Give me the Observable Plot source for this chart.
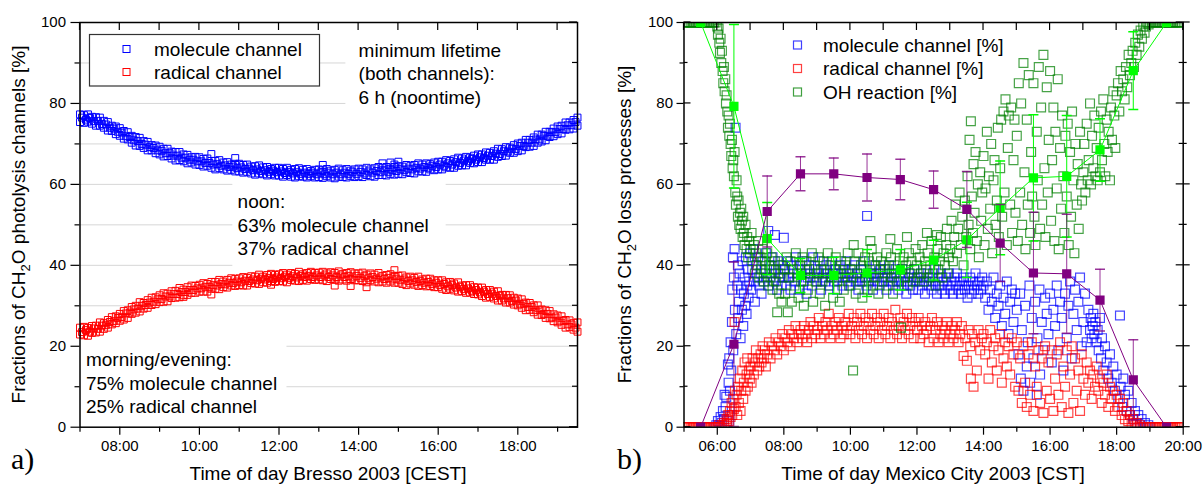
<!DOCTYPE html>
<html><head><meta charset="utf-8">
<script src="https://cdn.jsdelivr.net/npm/d3@7"></script>
<script src="https://cdn.jsdelivr.net/npm/@observablehq/plot@0.6"></script>
<style>
html,body{margin:0;padding:0;background:#fff;}
#wrap{display:flex;width:1203px;height:486px;overflow:hidden;}
#a{width:600px;height:486px;} #b{width:603px;height:486px;}
svg{display:block;}
</style></head><body><div id="wrap"><div id="a"></div><div id="b"></div></div>
<script>
// ---------------- Panel a) Bresso ----------------
const bressoHours = [7.0,7.1,7.2,7.3,7.4,7.5,7.6,7.7,7.8,7.9,8.0,8.1,8.2,8.3,8.4,8.5,8.6,8.7,8.8,8.9,9.0,9.1,9.2,9.3,9.4,9.5,9.6,9.7,9.8,9.9,10.0,10.1,10.2,10.3,10.4,10.5,10.6,10.7,10.8,10.9,11.0,11.1,11.2,11.3,11.4,11.5,11.6,11.7,11.8,11.9,12.0,12.1,12.2,12.3,12.4,12.5,12.6,12.7,12.8,12.9,13.0,13.1,13.2,13.3,13.4,13.5,13.6,13.7,13.8,13.9,14.0,14.1,14.2,14.3,14.4,14.5,14.6,14.7,14.8,14.9,15.0,15.1,15.2,15.3,15.4,15.5,15.6,15.7,15.8,15.9,16.0,16.1,16.2,16.3,16.4,16.5,16.6,16.7,16.8,16.9,17.0,17.1,17.2,17.3,17.4,17.5,17.6,17.7,17.8,17.9,18.0,18.1,18.2,18.3,18.4,18.5,18.6,18.7,18.8,18.9,19.0,19.1,19.2,19.3,19.4,19.5];
const moleculeHigh = [77.3,77.1,77.3,76.7,76.6,76.5,75.7,75.4,74.5,74.3, 73.9,73.2,72.9,72.0,71.7,71.5,70.7,70.5,69.7,69.6, 69.3,68.8,68.8,68.1,68.0,68.0,67.4,67.3,66.7,66.8, 66.7,66.3,66.4,65.8,65.8,66.0,65.4,65.5,64.9,65.1, 65.1,64.8,64.9,64.4,64.5,64.7,64.2,64.3,63.8,64.1, 64.1,63.8,64.1,63.6,63.8,64.0,63.6,63.8,63.3,63.6, 63.7,63.5,63.8,63.4,63.6,63.9,63.5,63.8,63.4,63.7, 63.9,63.7,64.1,63.7,64.0,64.3,64.0,64.3,63.9,64.3, 64.5,64.4,64.8,64.5,64.8,65.2,64.9,65.2,65.0,65.4, 65.6,65.6,66.0,65.8,66.2,66.6,66.4,66.8,66.6,67.1, 67.4,67.4,67.9,67.8,68.2,68.8,68.7,69.2,69.1,69.7, 70.1,70.3,71.0,71.0,71.6,72.3,72.3,73.0,73.0,73.8, 74.3,74.5,75.3,75.3,75.9,76.5];
const moleculeLow = [75.4,75.2,75.5,75.0,74.5,74.5,74.0,73.3,73.2,72.4, 72.0,71.3,71.1,70.3,69.6,69.5,69.0,68.4,68.4,67.7, 67.4,66.9,67.0,66.4,65.9,66.0,65.7,65.2,65.4,64.9, 64.8,64.4,64.6,64.1,63.7,64.0,63.7,63.4,63.6,63.2, 63.2,62.9,63.1,62.7,62.4,62.7,62.5,62.2,62.5,62.2, 62.2,61.9,62.3,61.9,61.7,62.0,61.9,61.7,62.0,61.7, 61.8,61.6,62.0,61.7,61.5,61.9,61.8,61.7,62.1,61.8, 62.0,61.8,62.3,62.0,61.9,62.3,62.3,62.2,62.6,62.4, 62.6,62.5,63.0,62.8,62.7,63.2,63.2,63.1,63.7,63.5, 63.7,63.7,64.2,64.1,64.1,64.6,64.7,64.7,65.3,65.2, 65.5,65.5,66.1,66.1,66.1,66.8,67.0,67.1,67.8,67.8, 68.2,68.4,69.2,69.3,69.5,70.3,70.6,70.9,71.7,71.9, 72.4,72.6,73.5,73.6,73.8,74.5];
const radicalHigh = [24.6,24.8,24.5,25.0,25.1,25.9,25.7,26.5,27.2,27.4, 28.0,28.7,28.9,29.7,30.0,30.9,30.7,31.4,32.0,32.1, 32.6,33.1,33.0,33.6,33.7,34.4,34.0,34.6,35.0,34.9, 35.2,35.6,35.4,35.9,35.9,36.4,36.0,36.4,36.8,36.6, 36.8,37.1,36.9,37.3,37.2,37.7,37.2,37.6,37.9,37.6, 37.8,38.1,37.7,38.1,37.9,38.4,37.8,38.1,38.4,38.1, 38.2,38.4,38.0,38.3,38.1,38.5,37.9,38.1,38.3,38.0, 38.0,38.2,37.7,38.0,37.7,38.1,37.4,37.6,37.8,37.4, 37.4,37.5,37.0,37.2,36.9,37.2,36.5,36.7,36.7,36.3, 36.3,36.3,35.8,35.9,35.5,35.8,35.0,35.1,35.1,34.6, 34.5,34.5,33.9,33.9,33.5,33.6,32.7,32.7,32.6,32.0, 31.8,31.6,30.8,30.7,30.1,30.1,29.1,28.9,28.7,27.9, 27.6,27.4,26.5,26.4,25.8,25.9];
const radicalLow = [22.9,22.7,22.6,23.3,23.4,23.6,24.3,24.6,25.4,25.7, 26.3,26.6,27.0,28.0,28.3,28.6,29.3,29.5,30.2,30.4, 30.9,31.0,31.1,31.9,32.0,32.1,32.6,32.7,33.2,33.2, 33.5,33.5,33.5,34.2,34.2,34.1,34.6,34.5,35.0,34.9, 35.1,35.0,35.0,35.6,35.5,35.4,35.8,35.7,36.1,35.9, 36.1,36.0,35.8,36.4,36.2,36.1,36.4,36.2,36.6,36.4, 36.5,36.3,36.1,36.6,36.4,36.2,36.5,36.2,36.5,36.3, 36.3,36.1,35.8,36.3,36.0,35.8,36.0,35.7,36.0,35.7, 35.7,35.4,35.1,35.5,35.2,34.9,35.1,34.8,34.9,34.6, 34.6,34.2,33.9,34.2,33.8,33.5,33.6,33.2,33.3,32.9, 32.8,32.4,32.0,32.2,31.8,31.3,31.3,30.8,30.8,30.3, 30.1,29.5,28.9,29.0,28.4,27.8,27.7,27.0,26.9,26.2, 25.9,25.3,24.6,24.7,24.1,23.6];
const bressoHalfHours = [7.05,7.15,7.25,7.35,7.45,7.55,7.65,7.75,7.85,7.95,8.05,8.15,8.25,8.35,8.45,8.55,8.65,8.75,8.85,8.95,9.05,9.15,9.25,9.35,9.45,9.55,9.65,9.75,9.85,9.95,10.05,10.15,10.25,10.35,10.45,10.55,10.65,10.75,10.85,10.95,11.05,11.15,11.25,11.35,11.45,11.55,11.65,11.75,11.85,11.95,12.05,12.15,12.25,12.35,12.45,12.55,12.65,12.75,12.85,12.95,13.05,13.15,13.25,13.35,13.45,13.55,13.65,13.75,13.85,13.95,14.05,14.15,14.25,14.35,14.45,14.55,14.65,14.75,14.85,14.95,15.05,15.15,15.25,15.35,15.45,15.55,15.65,15.75,15.85,15.95,16.05,16.15,16.25,16.35,16.45,16.55,16.65,16.75,16.85,16.95,17.05,17.15,17.25,17.35,17.45,17.55,17.65,17.75,17.85,17.95,18.05,18.15,18.25,18.35,18.45,18.55,18.65,18.75,18.85,18.95,19.05,19.15,19.25,19.35,19.45];
const moleculeMid = [76.5,76.0,76.4,75.6,75.7,74.9,74.8,74.0,73.8,73.0, 72.8,71.9,71.7,70.9,70.7,70.0,69.8,69.2,69.0,68.4, 68.3,67.7,67.7,67.1,67.1,66.6,66.6,66.1,66.1,65.7, 65.7,65.3,65.3,64.9,65.0,64.6,64.7,64.3,64.4,64.0, 64.2,63.8,63.9,63.5,63.7,63.3,63.5,63.1,63.4,63.0, 63.2,62.8,63.1,62.7,63.0,62.6,62.9,62.6,62.9,62.5, 62.9,62.5,62.9,62.5,62.9,62.5,62.9,62.6,63.0,62.6, 63.1,62.7,63.2,62.9,63.3,63.0,63.4,63.1,63.5,63.3, 63.7,63.5,63.9,63.7,64.1,63.9,64.3,64.1,64.6,64.3, 64.9,64.6,65.2,64.9,65.5,65.3,65.9,65.7,66.3,66.1, 66.7,66.5,67.1,67.0,67.6,67.5,68.2,68.1,68.8,68.7, 69.5,69.5,70.3,70.3,71.1,71.1,72.0,72.0,72.9,72.9, 73.7,73.7,74.6,74.6,75.4];
const radicalMid = [23.5,24.0,23.6,24.4,24.3,25.1,25.2,26.0,26.2,27.0, 27.2,28.1,28.3,29.1,29.3,30.0,30.2,30.8,31.0,31.6, 31.7,32.3,32.3,32.9,32.9,33.4,33.4,33.9,33.9,34.3, 34.3,34.7,34.7,35.1,35.0,35.4,35.3,35.7,35.6,36.0, 35.8,36.2,36.1,36.5,36.3,36.7,36.5,36.9,36.6,37.0, 36.8,37.2,36.9,37.3,37.0,37.4,37.1,37.4,37.1,37.5, 37.1,37.5,37.1,37.5,37.1,37.5,37.1,37.4,37.0,37.4, 36.9,37.3,36.8,37.1,36.7,37.0,36.6,36.9,36.5,36.7, 36.3,36.5,36.1,36.3,35.9,36.1,35.7,35.9,35.4,35.7, 35.1,35.4,34.8,35.1,34.5,34.7,34.1,34.3,33.7,33.9, 33.3,33.5,32.9,33.0,32.4,32.5,31.8,31.9,31.2,31.3, 30.5,30.5,29.7,29.7,28.9,28.9,28.0,28.0,27.1,27.1, 26.3,26.3,25.4,25.4,24.6];
const moleculeOutliers = [[10.3,67.5],[10.9,66.5],[13.1,64.8],[14.6,65.2],[14.8,65.4],[15.0,65.6],[14.9,64.9]];
const radicalOutliers = [[9.6,32.2],[10.3,32.8],[11.8,35.2],[13.4,35.0],[13.8,34.9],[14.2,34.6],[14.9,38.8]];
const bressoYTicks = [0,20,40,60,80,100];
const bressoYMinor = [10,30,50,70,90];
const bressoGrid = [10,20,30,40,50,60,70,80,90];
const bressoXTicks = [8,10,12,14,16,18];
const bressoXMinor = [7,9,11,13,15,17,19];

// ---------------- Panel b) Mexico City ----------------
const mexicoMolecule = [
[5.92,0],[5.97,0.5],[6.02,1.5],[6.07,0.5],[6.1,2.5],[6.13,1],[6.17,4],[6.2,2],
[6.22,8],[6.25,5],[6.27,7.5],[6.3,1.5],[6.32,15.5],[6.34,11],[6.36,17],[6.38,9],[6.4,21],[6.42,14],[6.44,26],[6.45,34],[6.47,42],[6.48,19],
[6.5,37],[6.52,44],[6.53,29],[6.55,74],[6.57,23],[6.6,35],[6.62,40],[6.63,27],[6.65,31],[6.67,38],[6.7,22],[6.72,34],[6.74,29],[6.76,41],[6.78,25],[6.8,33],[6.82,37],[6.84,30],[6.86,42],[6.88,28],[6.9,35],[6.92,39],[6.94,32],[6.96,36],[6.98,43],
[7.02,34],[7.05,39],[7.08,44],[7.1,36],[7.13,31],[7.16,40],[7.2,37],[7.23,42],[7.26,35],[7.3,38],[7.33,33],[7.36,41],[7.4,36],[7.43,39],[7.46,43],[7.5,37],[7.53,48.5],[7.56,35],[7.6,40],[7.63,38],[7.66,42],[7.7,36],[7.73,47.5],[7.76,39],[7.8,34],[7.83,41],[7.86,37],[7.9,38],[7.93,35],[7.96,40],[8.0,46.8],[8.0,37],
[8.04,39],[8.08,35],[8.12,41],[8.16,37],[8.2,34],[8.24,40],[8.28,38],[8.32,36],[8.36,42],[8.4,37],[8.44,39],[8.48,34],[8.52,38],[8.56,41],[8.6,36],[8.64,39],[8.68,33],[8.72,37],[8.76,40],[8.8,38],[8.84,35],[8.88,42],[8.92,37],[8.96,39],
[9.0,36],[9.04,38],[9.08,41],[9.12,34],[9.16,37],[9.2,39],[9.24,36],[9.28,40],[9.32,38],[9.36,35],[9.4,37],[9.44,41],[9.48,38],[9.52,36],[9.56,39],[9.6,34],[9.64,37],[9.68,40],[9.72,38],[9.76,35],[9.8,39],[9.84,37],[9.88,41],[9.92,36],[9.96,38],
[10.0,35],[10.04,39],[10.08,37],[10.12,40],[10.16,36],[10.2,38],[10.24,34],[10.28,37],[10.32,39],[10.36,36],[10.4,41],[10.44,37],[10.48,35],[10.5,52.2],[10.52,38],[10.56,36],[10.6,39],[10.64,37],[10.68,34],[10.72,38],[10.76,40],[10.8,36],[10.84,38],[10.88,35],[10.92,39],[10.96,37],
[11.0,36],[11.04,39],[11.08,34],[11.12,37],[11.16,40],[11.2,36],[11.24,38],[11.28,35],[11.32,37],[11.36,39],[11.4,36],[11.44,34],[11.48,38],[11.52,36],[11.56,39],[11.6,35],[11.64,37],[11.68,33],[11.72,36],[11.76,38],[11.8,35],[11.84,37],[11.88,34],[11.92,39],[11.96,36],
[12.0,37],[12.04,34],[12.08,36],[12.12,38],[12.16,35],[12.2,37],[12.24,33],[12.28,36],[12.32,38],[12.36,35],[12.4,37],[12.44,34],[12.48,36],[12.52,39],[12.56,35],[12.6,33],[12.64,37],[12.68,35],[12.72,38],[12.76,34],[12.8,36],[12.84,33],[12.88,37],[12.92,35],[12.96,38],
[13.0,34],[13.04,36],[13.08,33],[13.12,37],[13.16,35],[13.2,38],[13.24,34],[13.28,36],[13.32,33],[13.36,35],[13.4,37],[13.44,34],[13.48,36],[13.52,32],[13.56,35],[13.6,37],[13.64,33],[13.68,36],[13.72,34],[13.76,38],[13.8,35],[13.84,33],[13.88,36],[13.92,34],[13.96,37],
[14.0,35],[14.05,32],[14.1,36],[14.15,29],[14.2,34],[14.25,31],[14.3,37],[14.35,27],[14.4,33],[14.45,30],[14.5,35],[14.55,25],[14.6,32],[14.65,28],[14.7,36],[14.75,23],[14.8,31],[14.85,34],[14.9,26],[14.95,33],
[15.0,29],[15.05,18],[15.1,33],[15.12,12],[15.15,24],[15.2,9],[15.25,30],[15.3,15],[15.33,21],[15.38,35],[15.4,11],[15.45,27],[15.5,17],[15.55,31],[15.6,8],[15.62,22],[15.68,34],[15.7,13],[15.75,26],[15.8,19],[15.85,32],[15.9,28],[15.95,23],
[16.0,33],[16.05,16],[16.1,29],[16.15,25],[16.2,35],[16.25,19],[16.3,31],[16.35,27],[16.4,14],[16.45,33],[16.5,22],[16.55,30],[16.6,36],[16.65,17],[16.7,28],[16.75,34],[16.8,24],[16.85,31],[16.9,37],[16.95,20],
[17.0,26],[17.05,33],[17.1,21],[17.15,29],[17.2,24],[17.22,27],[17.25,22],[17.28,25],[17.3,28],[17.33,23],[17.36,26],[17.4,21],[17.43,24],[17.46,19],[17.5,27],[17.53,17],[17.56,22],[17.6,14],[17.65,20],[17.7,16],[17.75,12],[17.8,18],[17.85,11],[17.9,15],[17.95,9],
[18.0,13],[18.05,7],[18.1,27.6],[18.12,10],[18.17,5],[18.2,12],[18.25,8],[18.3,4],[18.35,9],[18.4,3],[18.45,6],[18.5,2],[18.55,4],[18.6,1],[18.65,3],[18.7,0.5],[18.75,2],[18.8,0],[18.85,1],[18.9,0],[18.95,0.5],[19.0,0]];
const mexicoRadical = [
[5.0,0],[5.05,0],[5.1,0],[5.15,0],[5.2,0],[5.25,0],[5.3,0],[5.35,0],[5.4,0],[5.45,0],[5.5,0],[5.55,0],[5.6,0],[5.65,0],[5.7,0],[5.75,0],[5.8,0],[5.85,0],[5.9,0],[5.95,0],[6.0,0],[6.05,0.5],[6.1,0],[6.15,0.5],[6.2,1],
[6.25,0.5],[6.28,2],[6.3,1],[6.33,3],[6.35,1.5],[6.38,4],[6.4,2.5],[6.43,6],[6.45,3],[6.48,7],[6.5,4.5],[6.52,26],[6.53,9],[6.55,5],[6.58,8],[6.6,3],[6.62,10],[6.65,6],[6.68,12],[6.7,4],
[6.72,9],[6.75,14],[6.78,7],[6.8,11],[6.82,16],[6.85,9],[6.88,13],[6.9,17],[6.92,10],[6.95,14],[6.98,12],[7.0,15],[7.03,11],[7.06,17],[7.1,13],[7.13,16],[7.16,19],[7.2,14],[7.23,17],[7.26,15],[7.3,18],[7.33,16],[7.36,20],[7.4,17],[7.43,19],[7.46,15],
[7.5,18],[7.55,21],[7.6,17],[7.65,20],[7.7,19],[7.75,22],[7.8,18],[7.85,21],[7.9,20],[7.95,23],[8.0,19],[8.05,22],[8.1,21],[8.15,24],[8.2,20],[8.25,23],[8.3,22],[8.35,25],[8.4,21],[8.45,23],[8.5,24],[8.55,22],[8.6,25],[8.65,23],[8.7,21],[8.75,24],[8.8,26],[8.85,22],[8.9,25],[8.95,23],
[9.0,24],[9.05,27],[9.1,22],[9.15,25],[9.2,23],[9.25,26],[9.3,24],[9.35,28],[9.4,22],[9.45,25],[9.5,23],[9.55,26],[9.6,24],[9.65,27],[9.7,22],[9.75,25],[9.8,23],[9.85,26],[9.9,24],[9.95,28],
[10.0,23],[10.05,25],[10.1,27],[10.15,22],[10.2,26],[10.25,24],[10.3,28],[10.35,23],[10.4,25],[10.45,27],[10.5,22],[10.55,26],[10.6,24],[10.65,28],[10.7,23],[10.75,25],[10.8,27],[10.85,22],[10.9,26],[10.95,24],
[11.0,28],[11.05,23],[11.1,25],[11.15,27],[11.2,22],[11.25,26],[11.3,24],[11.35,29],[11.4,23],[11.45,25],[11.5,27],[11.55,22],[11.6,26],[11.65,24],[11.7,28],[11.75,23],[11.8,25],[11.85,27],[11.9,22],[11.95,26],
[12.0,24],[12.05,27],[12.1,22],[12.15,25],[12.2,23],[12.25,26],[12.3,24],[12.35,21],[12.4,25],[12.45,27],[12.5,22],[12.55,24],[12.6,26],[12.65,21],[12.7,23],[12.75,25],[12.8,22],[12.85,24],[12.9,26],[12.95,21],
[13.0,23],[13.05,25],[13.1,22],[13.15,24],[13.2,26],[13.25,21],[13.3,23],[13.35,25],[13.4,17.6],[13.45,22],[13.5,16.4],[13.55,24],[13.6,20],[13.62,12],[13.65,23],[13.7,10],[13.75,21],[13.8,14],[13.85,24],[13.9,19],[13.95,22],
[14.0,23],[14.05,18],[14.1,21],[14.15,12],[14.2,24],[14.25,16],[14.3,20],[14.35,22],[14.4,14],[14.45,19],[14.5,23],[14.55,11],[14.6,17],[14.65,21],[14.7,15],[14.75,20],[14.8,13],[14.85,22],[14.9,18],[14.95,10],
[15.0,21],[15.05,9],[15.1,17],[15.15,6],[15.2,20],[15.25,11],[15.3,5],[15.35,18],[15.4,8],[15.45,21],[15.5,4],[15.55,15],[15.6,10],[15.65,19],[15.7,6],[15.75,17],[15.8,3.5],[15.85,20],[15.9,9],[15.95,16],
[16.0,7],[16.05,19],[16.1,4],[16.15,12],[16.2,18],[16.25,8],[16.3,21],[16.35,5],[16.4,15],[16.45,10],[16.5,19],[16.55,3.5],[16.6,13],[16.65,20],[16.7,6],[16.75,17],[16.8,9],[16.85,14],[16.9,4],[16.95,18],
[17.0,12],[17.05,8],[17.1,16],[17.15,11],[17.2,14],[17.25,7],[17.3,13],[17.35,10],[17.4,15],[17.45,9],[17.5,12],[17.55,6],[17.6,11],[17.65,8],[17.7,13],[17.75,5],[17.8,10],[17.85,7],[17.9,9],[17.95,4],
[18.0,8],[18.05,5],[18.1,7],[18.15,3],[18.2,6],[18.25,2],[18.3,4],[18.35,1.5],[18.4,3],[18.45,1],[18.5,2],[18.55,0.5],[18.6,1],[18.65,0],[18.7,0.5],[18.75,0],[18.8,0],
[18.9,0],[19.0,0],[19.05,0],[19.1,0],[19.15,0],[19.2,0],[19.25,0],[19.3,0],[19.35,0],[19.4,0],[19.45,0],[19.5,0],[19.55,0],[19.6,0],[19.65,0],[19.7,0],[19.75,0],[19.8,0],[19.85,0],[19.9,0],[19.95,0]];
const mexicoOH = [
[5.0,100],[5.05,100],[5.1,100],[5.15,100],[5.2,100],[5.25,100],[5.3,100],[5.35,100],[5.4,100],[5.45,100],[5.5,100],[5.55,100],[5.6,100],[5.65,100],[5.7,100],[5.75,100],[5.8,100],[5.85,100],[5.9,100],[5.95,100],
[6.0,99],[6.02,97],[6.04,98.5],[6.06,95],[6.08,92.5],[6.1,96],[6.12,90],[6.14,93],[6.16,88],[6.18,85],[6.2,89],[6.22,83],[6.24,86],[6.26,80],[6.28,82],[6.3,78],[6.32,74],[6.34,77],[6.36,72],[6.38,75],[6.4,70],[6.42,67],[6.44,71],[6.46,64],[6.48,66],
[6.5,62],[6.52,68],[6.54,58],[6.56,55],[6.58,61],[6.6,57],[6.62,52],[6.64,56],[6.66,50],[6.68,53],[6.7,49],[6.72,54],[6.74,51],[6.76,47],[6.78,52],[6.8,48],[6.82,45],[6.85,50],[6.88,44],[6.9,47],[6.93,42],[6.96,46],
[7.0,44],[7.03,48],[7.06,41],[7.1,45],[7.13,38],[7.16,43],[7.2,40],[7.23,46],[7.26,37],[7.3,42],[7.33,39],[7.36,44],[7.4,36],[7.43,41],[7.46,38],[7.5,43],[7.53,35],[7.56,40],[7.6,37],[7.63,42],[7.66,34],[7.7,39],[7.73,41],[7.76,36],[7.8,28.4],[7.83,38],[7.86,33],[7.9,40],[7.93,31],[7.96,37],
[8.0,39],[8.04,33],[8.08,42],[8.12,28.4],[8.16,37],[8.2,41],[8.24,31],[8.28,39],[8.32,35],[8.36,43],[8.4,38],[8.44,32],[8.48,40],[8.52,36],[8.56,42],[8.6,30],[8.64,38],[8.68,41],[8.72,34],[8.76,39],[8.8,37],[8.84,43],[8.88,31],[8.92,40],[8.96,36],
[9.0,38],[9.04,42],[9.08,33],[9.12,39],[9.16,36],[9.2,41],[9.24,30],[9.28,38],[9.32,43],[9.36,35],[9.4,40],[9.44,37],[9.48,32],[9.52,39],[9.56,42],[9.6,36],[9.64,38],[9.68,31],[9.72,41],[9.76,37],[9.8,34],[9.84,40],[9.88,38],[9.92,43],[9.96,35],
[10.0,39],[10.04,37],[10.08,14],[10.1,45],[10.12,41],[10.16,33],[10.2,38],[10.24,43],[10.28,36],[10.32,40],[10.36,32],[10.4,39],[10.44,42],[10.48,37],[10.52,34],[10.56,41],[10.6,46],[10.62,38],[10.64,44],[10.68,35],[10.72,40],[10.76,37],[10.8,42],[10.84,33],[10.88,39],[10.92,41],[10.96,36],
[11.0,40],[11.04,38],[11.08,43],[11.12,35],[11.16,39],[11.2,46.5],[11.22,42],[11.24,37],[11.28,33],[11.32,40],[11.36,38],[11.4,44],[11.44,36],[11.48,41],[11.52,24.6],[11.56,39],[11.6,42],[11.64,37],[11.68,40],[11.7,47],[11.72,35],[11.76,43],[11.8,38],[11.84,41],[11.88,36],[11.92,39],[11.96,44],
[12.0,40],[12.04,37],[12.08,42],[12.12,38],[12.16,45],[12.2,36],[12.24,41],[12.28,39],[12.3,48],[12.32,43],[12.36,37],[12.4,40],[12.44,46],[12.48,38],[12.52,42],[12.56,35],[12.6,47.5],[12.62,44],[12.64,39],[12.68,41],[12.72,47],[12.76,37],[12.8,43],[12.84,40],[12.88,45],[12.9,49],[12.92,38],[12.96,42],
[13.0,44],[13.04,51],[13.08,41],[13.12,47],[13.16,55],[13.2,43],[13.24,49],[13.28,58],[13.32,45],[13.36,52],[13.4,40],[13.44,56],[13.48,47],
[13.52,62],[13.55,50],[13.58,71],[13.6,44],[13.62,75.6],[13.65,57],[13.68,48],[13.7,65],[13.73,53],[13.76,68],[13.8,46],[13.83,60],[13.86,42],[13.9,63],[13.93,51],[13.96,58],
[14.0,67],[14.03,45],[14.06,59],[14.1,73],[14.13,49],[14.16,62],[14.2,54],[14.23,70],[14.26,43],[14.3,61],[14.33,66],[14.36,50],[14.4,56],[14.43,74],[14.46,47],
[14.5,64],[14.53,76],[14.56,52],[14.6,78],[14.63,58],[14.66,81],[14.7,45],[14.73,69],[14.76,77],[14.8,55],[14.83,79],[14.86,48],[14.9,66],[14.93,76],[14.96,53],
[15.0,72],[15.03,46],[15.06,85],[15.1,58],[15.13,80],[15.16,50],[15.2,90],[15.23,63],[15.26,44],[15.3,76],[15.33,55],[15.36,87],[15.4,48],[15.43,68],[15.46,57],
[15.5,85],[15.53,52],[15.56,45],[15.6,73],[15.63,61],[15.66,89],[15.7,49],[15.73,79],[15.76,55],[15.8,92],[15.83,64],[15.86,47],[15.9,84],[15.93,58],[15.96,71],
[16.0,88],[16.03,51],[16.06,66],[16.1,79],[16.13,46],[16.16,73],[16.2,59],[16.23,86],[16.26,44],[16.3,69],[16.33,54],[16.36,77],[16.4,62],[16.43,48],[16.46,72],
[16.5,57],[16.53,75],[16.56,45],[16.6,68],[16.63,52],[16.66,78],[16.7,61],[16.73,43],[16.76,70],[16.8,55],[16.83,65],[16.86,49],[16.9,73],[16.93,60],[16.96,56],
[17.0,63],[17.03,70],[17.06,58],[17.1,75],[17.13,61],[17.16,66],[17.2,80],[17.23,60],[17.26,72],[17.3,64],[17.33,77],[17.36,62],[17.4,69],[17.43,61],[17.46,74],
[17.5,63],[17.53,78],[17.56,66],[17.6,81],[17.63,70],[17.66,62],[17.7,76],[17.73,68],[17.76,73],[17.8,61],[17.83,79],[17.86,71],[17.9,83],[17.93,77],[17.96,69],
[18.0,82],[18.04,85],[18.08,78],[18.12,88],[18.16,83],[18.2,86],[18.24,81],[18.28,89],[18.32,84],[18.36,92],[18.4,87],[18.44,90],[18.48,93],
[18.52,89],[18.56,95],[18.6,92],[18.64,97],[18.68,94],[18.72,98],[18.76,96],[18.8,99],[18.84,97.5],[18.88,99],[18.92,100],[18.96,99.5],
[19.0,100],[19.05,100],[19.1,100],[19.15,100],[19.2,100],[19.25,100],[19.3,100],[19.35,100],[19.4,100],[19.45,100],[19.5,100],[19.55,100],[19.6,100],[19.65,100],[19.7,100],[19.75,100],[19.8,100],[19.85,100],[19.9,100],[19.95,100]];
const hourlyHours = [5.5,6.5,7.5,8.5,9.5,10.5,11.5,12.5,13.5,14.5,15.5,16.5,17.5,18.5,19.5];
const photolysisMean = [0,20.5,53.3,62.6,62.6,61.7,61.2,58.7,53.8,45.5,38.1,37.9,31.4,11.7,0];
const photolysisErr = [0,20.3,8.8,4.2,3.9,5.8,5.0,4.6,9.4,9.5,15.0,14.7,7.6,9.9,0];
const ohMean = [100,79.3,46.6,37.5,37.5,38.1,38.9,41.3,46.3,54.2,61.6,62.0,68.5,88.1,100];
const ohErr = [0,20.2,8.9,4.2,4.5,5.8,5.0,4.9,9.3,11.6,15.6,15.0,7.7,9.6,0];
const mexicoXTicks = [6,8,10,12,14,16,18,20];
const mexicoXMinor = [5,7,9,11,13,15,17,19];

// ---------------- helpers ----------------
const FONT = "'Liberation Sans', Arial, Helvetica, sans-serif";
const hhmm = h => String(h).padStart(2, "0") + ":00";
const BLUE = "#0000ff", RED = "#ff0000", DKGREEN = "#008000", PURPLE = "#800080", LIME = "#00ff00";
const cap = {draw(ctx) { ctx.moveTo(-5, 0); ctx.lineTo(5, 0); }};

const bressoMolecule = bressoHours.flatMap((t, i) => [{t, v: moleculeHigh[i]}, {t, v: moleculeLow[i]}])
  .concat(bressoHalfHours.map((t, i) => ({t, v: moleculeMid[i]})))
  .concat(moleculeOutliers.map(([t, v]) => ({t, v})));
const bressoRadical = bressoHours.flatMap((t, i) => [{t, v: radicalHigh[i]}, {t, v: radicalLow[i]}])
  .concat(bressoHalfHours.map((t, i) => ({t, v: radicalMid[i]})))
  .concat(radicalOutliers.map(([t, v]) => ({t, v})));
const photolysis = hourlyHours.map((t, i) => ({t, v: photolysisMean[i], e: photolysisErr[i]}));
const ohReaction = hourlyHours.map((t, i) => ({t, v: ohMean[i], e: ohErr[i]}));

function txt(svg, x, y, str, opts = {}) {
  const t = d3.select(svg).append("text").attr("x", x).attr("y", y)
    .attr("font-family", opts.family || FONT).attr("font-size", opts.size || 19)
    .attr("text-anchor", opts.anchor || "start").attr("fill", "#000");
  t.text(str);
  return t;
}
function ytitle(svg, x, y, before, after) {
  const t = d3.select(svg).append("text").attr("transform", `translate(${x},${y}) rotate(-90)`)
    .attr("font-family", FONT).attr("font-size", 19).attr("text-anchor", "middle").attr("fill", "#000");
  t.append("tspan").text(before);
  t.append("tspan").attr("font-size", 13).attr("dy", 5).text("2");
  t.append("tspan").attr("dy", -5).text(after);
}
function ticks(svg, spec) {
  const sx = svg.scale("x"), sy = svg.scale("y");
  const [L, R] = sx.range, [B, T] = sy.range;
  const g = d3.select(svg).append("g").attr("stroke", "#000").attr("stroke-width", 1.2);
  for (const [v, len] of spec.top || []) { const x = sx.apply(v); g.append("line").attr("x1", x).attr("x2", x).attr("y1", T).attr("y2", T + len); }
  for (const [v, inn, out] of spec.right || []) { const y = sy.apply(v); g.append("line").attr("x1", R - inn).attr("x2", R + out).attr("y1", y).attr("y2", y); }
  for (const [v, inn] of spec.left || []) { const y = sy.apply(v); g.append("line").attr("x1", L).attr("x2", L + inn).attr("y1", y).attr("y2", y); }
}

// ---------------- Panel a ----------------
const boxesA = [{x1: 13.68, x2: 19.5, y1: 76, y2: 100}, {x1: 10.84, x2: 16.2, y1: 38.8, y2: 61.5}, {x1: 7, x2: 12.2, y1: 0, y2: 21.5}];
const notesA = [
  {x: 14.0, y: 87.6, text: "minimum lifetime\n(both channels):\n6 h (noontime)"},
  {x: 10.96, y: 50.2, text: "noon:\n63% molecule channel\n37% radical channel"},
  {x: 7.15, y: 11.1, text: "morning/evening:\n75% molecule channel\n25% radical channel"}
];
const svgA = Plot.plot({
  width: 600, height: 486, marginLeft: 79.5, marginRight: 23, marginTop: 22, marginBottom: 59.3,
  style: {fontFamily: FONT, color: "#000", background: "#fff", overflow: "visible"},
  x: {domain: [7, 19.5], axis: null},
  y: {domain: [0, 100], axis: null},
  marks: [
    Plot.ruleY(bressoGrid, {stroke: "#d6d6d6", strokeWidth: 1}),
    Plot.rect(boxesA, {x1: "x1", x2: "x2", y1: "y1", y2: "y2", fill: "#fff"}),
    Plot.dot(bressoMolecule, {x: "t", y: "v", symbol: "square", r: 3.9, stroke: BLUE, fill: "none", strokeWidth: 1}),
    Plot.dot(bressoRadical, {x: "t", y: "v", symbol: "square", r: 3.9, stroke: RED, fill: "none", strokeWidth: 1}),
    Plot.text(notesA, {x: "x", y: "y", text: "text", textAnchor: "start", lineAnchor: "middle", lineHeight: 1.23, fontSize: 19, fill: "#000"}),
    Plot.axisX({ticks: bressoXTicks, tickFormat: hhmm, tickSize: 8, tickPadding: 5, fontSize: 15, strokeWidth: 1.2, label: null}),
    Plot.axisX({ticks: bressoXMinor, tickSize: 5, tickFormat: () => "", strokeWidth: 1.2, label: null}),
    Plot.axisY({ticks: bressoYTicks, tickSize: 9, tickPadding: 5, fontSize: 15, strokeWidth: 1.2, label: null}),
    Plot.axisY({ticks: bressoYMinor, tickSize: 5, tickFormat: () => "", strokeWidth: 1.2, label: null}),
    Plot.frame({stroke: "#000", strokeWidth: 1.5})
  ]
});
ticks(svgA, {
  top: bressoXTicks.concat(bressoXMinor).map(v => [v, 8]),
  right: bressoYTicks.map(v => [v, 8, 0]).concat(bressoYMinor.map(v => [v, 5, 0]))
});
{
  const g = d3.select(svgA).append("g");
  g.append("rect").attr("x", 89.5).attr("y", 34.5).attr("width", 230).attr("height", 51.5)
    .attr("fill", "#fff").attr("stroke", "#333").attr("stroke-width", 1.2);
  [[BLUE, 49, "molecule channel"], [RED, 72, "radical channel"]].forEach(([c, y, s]) => {
    g.append("rect").attr("x", 123).attr("y", y - 3.5).attr("width", 7).attr("height", 7).attr("fill", "none").attr("stroke", c);
    txt(svgA, 154, y + 6.8, s);
  });
}
ytitle(svgA, 25, 224.5, "Fractions of CH", "O photolysis channels [%]");
txt(svgA, 328, 480, "Time of day Bresso 2003 [CEST]", {anchor: "middle"});
txt(svgA, 11, 469, "a)", {family: "'Liberation Serif', 'Times New Roman', serif", size: 30});
document.getElementById("a").append(svgA);

// ---------------- Panel b ----------------
const errP = photolysis.filter(d => d.e > 0), errO = ohReaction.filter(d => d.e > 0);
const svgB = Plot.plot({
  width: 603, height: 486, marginLeft: 83.5, marginRight: 20.3, marginTop: 22, marginBottom: 59.3,
  style: {fontFamily: FONT, color: "#000", background: "#fff", overflow: "visible"},
  x: {domain: [5, 20], axis: null},
  y: {domain: [0, 100], axis: null},
  marks: [
    Plot.dot(mexicoMolecule, {x: d => d[0], y: d => d[1], symbol: "square", r: 5, stroke: BLUE, strokeOpacity: 0.72, fill: "none", strokeWidth: 1.2, clip: true}),
    Plot.dot(mexicoRadical, {x: d => d[0], y: d => d[1], symbol: "square", r: 5, stroke: RED, strokeOpacity: 0.72, fill: "none", strokeWidth: 1.2, clip: true}),
    Plot.dot(mexicoOH, {x: d => d[0], y: d => d[1], symbol: "square", r: 5, stroke: DKGREEN, strokeOpacity: 0.72, fill: "none", strokeWidth: 1.2, clip: true}),
    Plot.line(ohReaction, {x: "t", y: "v", stroke: LIME, strokeWidth: 1, clip: true}),
    Plot.ruleX(errO, {x: "t", y1: d => d.v - d.e, y2: d => d.v + d.e, stroke: LIME, strokeWidth: 1, clip: true}),
    Plot.dot(errO, {x: "t", y: d => d.v + d.e, symbol: cap, stroke: LIME, fill: "none", clip: true}),
    Plot.dot(errO, {x: "t", y: d => d.v - d.e, symbol: cap, stroke: LIME, fill: "none", clip: true}),
    Plot.dot(ohReaction, {x: "t", y: "v", symbol: "square", r: 5.2, fill: LIME, stroke: "none", clip: true}),
    Plot.line(photolysis, {x: "t", y: "v", stroke: PURPLE, strokeWidth: 1, clip: true}),
    Plot.ruleX(errP, {x: "t", y1: d => d.v - d.e, y2: d => d.v + d.e, stroke: PURPLE, strokeOpacity: 0.8, strokeWidth: 1, clip: true}),
    Plot.dot(errP, {x: "t", y: d => d.v + d.e, symbol: cap, stroke: PURPLE, strokeOpacity: 0.8, fill: "none", clip: true}),
    Plot.dot(errP, {x: "t", y: d => d.v - d.e, symbol: cap, stroke: PURPLE, strokeOpacity: 0.8, fill: "none", clip: true}),
    Plot.dot(photolysis, {x: "t", y: "v", symbol: "square", r: 5.2, fill: PURPLE, stroke: "none", clip: true}),
    Plot.axisX({ticks: mexicoXTicks, tickFormat: hhmm, tickSize: 8, tickPadding: 5, fontSize: 15, strokeWidth: 1.2, label: null}),
    Plot.axisX({ticks: mexicoXMinor, tickSize: 5, tickFormat: () => "", strokeWidth: 1.2, label: null}),
    Plot.axisY({ticks: bressoYTicks, tickSize: 7, tickPadding: 4, fontSize: 15, strokeWidth: 1.2, label: null}),
    Plot.axisY({ticks: bressoYMinor, tickSize: 4, tickFormat: () => "", strokeWidth: 1.2, label: null}),
    Plot.frame({stroke: "#000", strokeWidth: 1.5})
  ]
});
ticks(svgB, {
  top: mexicoXTicks.concat(mexicoXMinor).map(v => [v, 8]),
  right: bressoYTicks.map(v => [v, 7, 7]).concat(bressoYMinor.map(v => [v, 4, 4])),
  left: bressoYTicks.map(v => [v, 7]).concat(bressoYMinor.map(v => [v, 4]))
});
{
  const g = d3.select(svgB).append("g");
  [[BLUE, 45, "molecule channel [%]"], [RED, 68.5, "radical channel [%]"], [DKGREEN, 92, "OH reaction [%]"]].forEach(([c, y, s]) => {
    g.append("rect").attr("x", 193.5).attr("y", y - 4).attr("width", 8).attr("height", 8).attr("fill", "none")
      .attr("stroke", c).attr("stroke-opacity", 0.75).attr("stroke-width", 1.2);
    txt(svgB, 223, y + 6.8, s);
  });
}
ytitle(svgB, 31, 224.5, "Fractions of CH", "O loss processes [%]");
txt(svgB, 333, 480, "Time of day Mexico City 2003 [CST]", {anchor: "middle"});
txt(svgB, 17, 469, "b)", {family: "'Liberation Serif', 'Times New Roman', serif", size: 30});
document.getElementById("b").append(svgB);
</script></body></html>
